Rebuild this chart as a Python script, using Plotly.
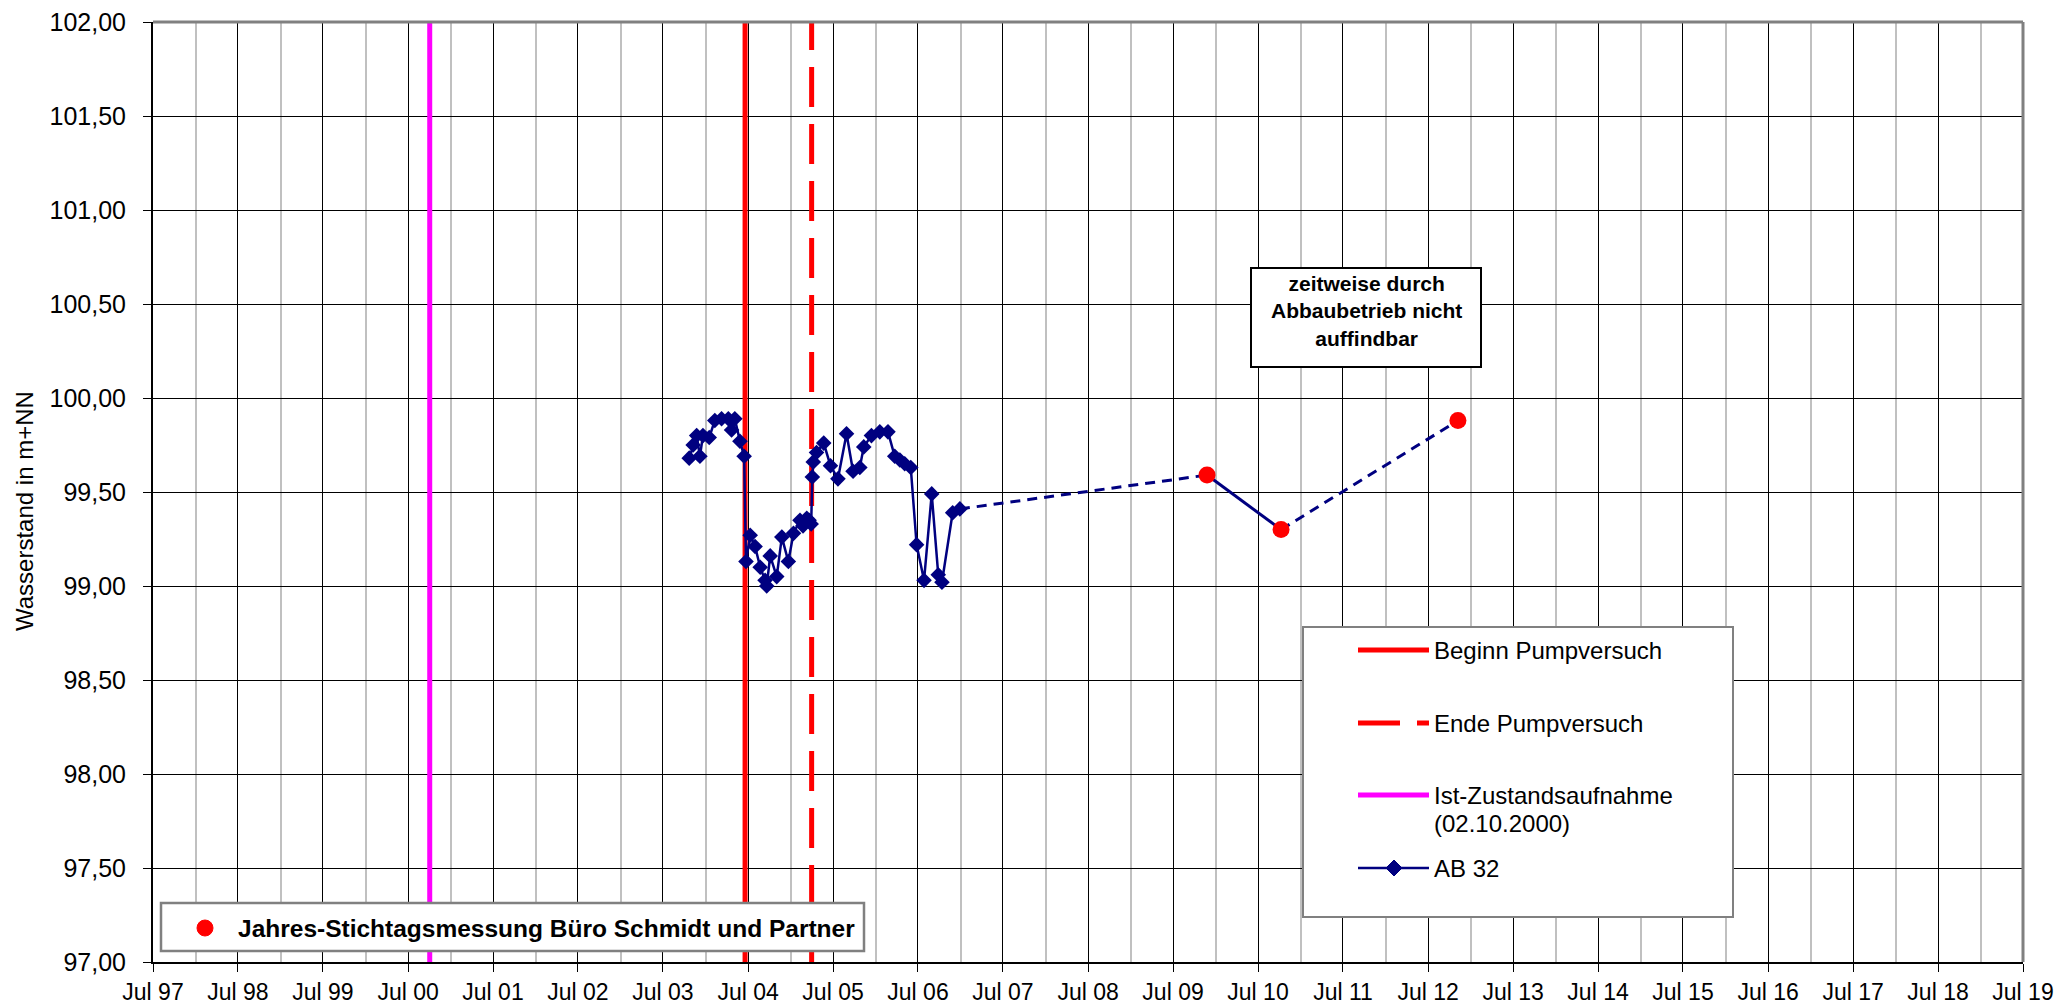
import plotly.graph_objects as go

# AB 32 water levels (m+NN)
ab32_dates = [
    "2003-10-22", "2003-11-08", "2003-11-23", "2003-12-07", "2003-12-20",
    "2004-01-16", "2004-02-09", "2004-03-09", "2004-04-07", "2004-04-21",
    "2004-05-05", "2004-05-27", "2004-06-14", "2004-06-22", "2004-07-10",
    "2004-07-31", "2004-08-22", "2004-09-12", "2004-09-19", "2004-10-04",
    "2004-11-01", "2004-11-23", "2004-12-21", "2005-01-12", "2005-02-09",
    "2005-02-22", "2005-03-10", "2005-03-20", "2005-03-29", "2005-04-03",
    "2005-04-07", "2005-04-21", "2005-05-22", "2005-06-20", "2005-07-22",
    "2005-08-28", "2005-09-25", "2005-10-24", "2005-11-10", "2005-12-13",
    "2006-01-18", "2006-02-22", "2006-03-23", "2006-04-14", "2006-05-05",
    "2006-05-31", "2006-06-25", "2006-07-27", "2006-08-29", "2006-09-26",
    "2006-10-12", "2006-11-27", "2006-12-28",
]
ab32_levels = [
    99.68, 99.75, 99.80, 99.69, 99.80,
    99.79, 99.88, 99.89, 99.89, 99.83,
    99.89, 99.77, 99.69, 99.13, 99.27,
    99.21, 99.10, 99.03, 99.00, 99.16,
    99.05, 99.26, 99.13, 99.28, 99.35,
    99.32, 99.36, 99.35, 99.33, 99.58,
    99.66, 99.71, 99.76, 99.64, 99.57,
    99.81, 99.61, 99.63, 99.74, 99.80,
    99.82, 99.82, 99.69, 99.67, 99.65,
    99.63, 99.22, 99.03, 99.49, 99.06,
    99.02, 99.39, 99.41,
]

# Jahres-Stichtagsmessung Büro Schmidt und Partner
stichtag_dates = ["2009-11-24", "2010-10-08", "2012-11-06"]
stichtag_levels = [99.59, 99.30, 99.88]

# event dates
beginn_pumpversuch = "2004-06-18"
ende_pumpversuch = "2005-03-31"
ist_zustand = "2000-10-02"

y_min, y_max = 97.0, 102.0
x_start, x_end = "1997-07-01", "2019-07-01"

NAVY = "#000080"
RED = "#FF0000"
MAGENTA = "#FF00FF"
GREY = "#808080"
FONT = "Liberation Sans, Arial, sans-serif"

# plot area in pixels (figure is 2058 x 1005)
W, H = 2058, 1005
L, R, T, B = 153, 2023, 22, 962


def px(x):
    return (x - L) / (R - L)


def py(y):
    return (B - y) / (B - T)


fig = go.Figure()

# vertical event lines
fig.add_trace(go.Scatter(x=[ist_zustand, ist_zustand], y=[y_min, y_max], mode="lines",
                         line=dict(color=MAGENTA, width=5), showlegend=False, hoverinfo="skip"))
fig.add_trace(go.Scatter(x=[beginn_pumpversuch, beginn_pumpversuch], y=[y_min, y_max], mode="lines",
                         line=dict(color=RED, width=5), showlegend=False, hoverinfo="skip"))
fig.add_trace(go.Scatter(x=[ende_pumpversuch, ende_pumpversuch], y=[y_min, y_max], mode="lines",
                         line=dict(color=RED, width=5, dash="40px,17px"), showlegend=False, hoverinfo="skip"))

# connectors between AB 32 and the yearly measurements
fig.add_trace(go.Scatter(x=[ab32_dates[-1], stichtag_dates[0]], y=[ab32_levels[-1], stichtag_levels[0]],
                         mode="lines", line=dict(color=NAVY, width=3, dash="10px,7px"), showlegend=False))
fig.add_trace(go.Scatter(x=stichtag_dates[0:2], y=stichtag_levels[0:2],
                         mode="lines", line=dict(color=NAVY, width=3), showlegend=False))
fig.add_trace(go.Scatter(x=stichtag_dates[1:3], y=stichtag_levels[1:3],
                         mode="lines", line=dict(color=NAVY, width=3, dash="10px,7px"), showlegend=False))

# AB 32
fig.add_trace(go.Scatter(x=ab32_dates, y=ab32_levels, mode="lines+markers", name="AB 32",
                         line=dict(color=NAVY, width=2.5),
                         marker=dict(symbol="diamond", size=12, color=NAVY), showlegend=False))

# yearly measurements
fig.add_trace(go.Scatter(x=stichtag_dates, y=stichtag_levels, mode="markers",
                         name="Jahres-Stichtagsmessung Büro Schmidt und Partner",
                         marker=dict(symbol="circle", size=17, color=RED), showlegend=False))

shapes = []
annotations = []

# grey top/right frame
shapes.append(dict(type="line", xref="paper", yref="paper", x0=0, x1=1, y0=1, y1=1,
                   line=dict(color=GREY, width=3), layer="above"))
shapes.append(dict(type="line", xref="paper", yref="paper", x0=1, x1=1, y0=0, y1=1,
                   line=dict(color=GREY, width=3), layer="above"))

# main legend box
shapes.append(dict(type="rect", xref="paper", yref="paper", x0=px(1303), x1=px(1733), y0=py(917), y1=py(627),
                   line=dict(color=GREY, width=2), fillcolor="white", layer="above"))
legend_rows = [
    ("Beginn Pumpversuch", RED, 5, "solid", 650),
    ("Ende Pumpversuch", RED, 5, "42px,17px", 723),
    ("Ist-Zustandsaufnahme", MAGENTA, 5, "solid", 795),
    ("AB 32", NAVY, 2.5, "solid", 868),
]
for label, color, width, dash, yy in legend_rows:
    shapes.append(dict(type="line", xref="paper", yref="paper", x0=px(1358), x1=px(1429), y0=py(yy), y1=py(yy),
                       line=dict(color=color, width=width, dash=dash), layer="above"))
    annotations.append(dict(xref="paper", yref="paper", x=px(1432), y=py(yy), xanchor="left", yanchor="middle",
                            text=label, showarrow=False, font=dict(family=FONT, size=24, color="black")))
annotations.append(dict(xref="paper", yref="paper", x=px(1432), y=py(823), xanchor="left", yanchor="middle",
                        text="(02.10.2000)", showarrow=False, font=dict(family=FONT, size=24, color="black")))
# diamond in the AB 32 legend sample
cx, cy, dx, dy = px(1394), py(868), 8 / (R - L), 8 / (B - T)
shapes.append(dict(type="path", xref="paper", yref="paper",
                   path=f"M {cx - dx},{cy} L {cx},{cy + dy} L {cx + dx},{cy} L {cx},{cy - dy} Z",
                   fillcolor=NAVY, line=dict(color=NAVY, width=1), layer="above"))

# bottom legend box
shapes.append(dict(type="rect", xref="paper", yref="paper", x0=px(161), x1=px(864), y0=py(951), y1=py(903),
                   line=dict(color=GREY, width=2.5), fillcolor="white", layer="above"))
shapes.append(dict(type="circle", xref="paper", yref="paper", x0=px(197), x1=px(213), y0=py(936), y1=py(920),
                   line=dict(color=RED, width=1), fillcolor=RED, layer="above"))
annotations.append(dict(xref="paper", yref="paper", x=px(236), y=py(928), xanchor="left", yanchor="middle",
                        text="<b>Jahres-Stichtagsmessung Büro Schmidt und Partner</b>", showarrow=False,
                        font=dict(family=FONT, size=24.5, color="black")))

# note box
shapes.append(dict(type="rect", xref="paper", yref="paper", x0=px(1251), x1=px(1481), y0=py(367), y1=py(268),
                   line=dict(color="black", width=2), fillcolor="white", layer="above"))
annotations.append(dict(xref="paper", yref="paper", x=px(1366), y=py(311), xanchor="center", yanchor="middle",
                        text="<b>zeitweise durch<br>Abbaubetrieb nicht<br>auffindbar</b>", showarrow=False,
                        align="center", font=dict(family=FONT, size=21, color="black")))

# y axis title
annotations.append(dict(xref="paper", yref="paper", x=px(24), y=py(511), xanchor="center", yanchor="middle",
                        text="Wasserstand in m+NN", textangle=-90, showarrow=False,
                        font=dict(family=FONT, size=24, color="black")))

fig.update_layout(
    width=W, height=H,
    margin=dict(l=L, r=W - R, t=T, b=H - B, autoexpand=False),
    paper_bgcolor="white", plot_bgcolor="white",
    separators=",.",
    showlegend=False,
    font=dict(family=FONT, size=24, color="black"),
    shapes=shapes,
    annotations=annotations,
    xaxis=dict(
        type="date", range=[x_start, x_end],
        tick0=x_start, dtick="M12", tickformat="%b %y",
        showgrid=True, gridcolor="black", gridwidth=1,
        minor=dict(dtick="M6", tick0=x_start, showgrid=True, gridcolor="#C0C0C0", gridwidth=2),
        ticks="outside", ticklen=8, tickcolor="black", tickwidth=1,
        showline=True, linecolor="black", linewidth=2,
        tickfont=dict(family=FONT, size=23, color="black"),
        ticklabelstandoff=0,
        automargin=False,
        zeroline=False,
    ),
    yaxis=dict(
        range=[y_min, y_max], dtick=0.5, tick0=y_min, tickformat=".2f",
        showgrid=True, gridcolor="black", gridwidth=1,
        ticks="outside", ticklen=8, tickcolor="black", tickwidth=1,
        showline=True, linecolor="black", linewidth=2,
        tickfont=dict(family=FONT, size=25, color="black"),
        ticklabelstandoff=12,
        automargin=False,
        zeroline=False,
    ),
)

fig.write_html("out.html", config={"displayModeBar": False},
               post_script="document.body.style.margin='0px';")
